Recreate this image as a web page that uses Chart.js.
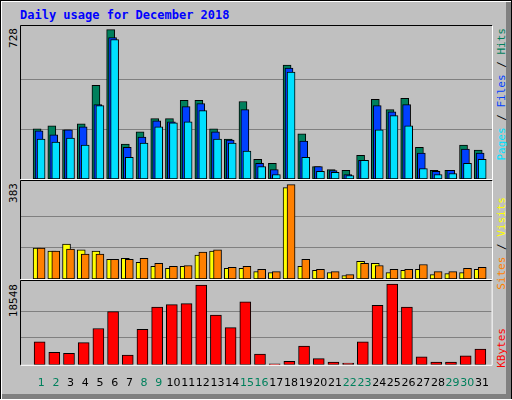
<!DOCTYPE html>
<html>
<head>
<meta charset="utf-8">
<script src="https://cdn.jsdelivr.net/npm/chart.js@4/dist/chart.umd.min.js"></script>
<style>
  body { margin: 0; background: #fff; }
  #frame { position: relative; width: 510px; height: 398px; background: #c0c0c0;
    border-top: 1px solid #000; border-left: 1px solid #000;
    box-shadow: inset 1px 1px 0 #fff, inset -5px -5px 0 #808080; outline: 1px solid #000; }
  #title { position: absolute; left: 19px; top: 7px; font: bold 12px "DejaVu Sans Mono", monospace; color: #0000ff; }
  canvas { position: absolute; }
  .vl { position: absolute; writing-mode: vertical-rl; transform: rotate(180deg); font: 11px "DejaVu Sans Mono", monospace; white-space: nowrap; }
</style>
</head>
<body>
<div id="frame">
  <div id="title">Daily usage for December 2018</div>
  <canvas id="cTop"></canvas>
  <canvas id="cMid"></canvas>
  <canvas id="cBot"></canvas>
  <div class="vl" style="left:6px;top:27px;color:#000">728</div>
  <div class="vl" style="left:6px;top:182px;color:#000">383</div>
  <div class="vl" style="left:6px;top:283px;color:#000">18548</div>
  <div class="vl" style="left:494px;top:27px"><span style="color:#00e0ff">Pages</span> / <span style="color:#0040ff">Files</span> / <span style="color:#00805c">Hits</span></div>
  <div class="vl" style="left:494px;top:196px"><span style="color:#ff8000">Sites</span> / <span style="color:#ffff00">Visits</span></div>
  <div class="vl" style="left:494px;top:327px;color:#ff0000">KBytes</div>
</div>
<script>
const days = Array.from({ length: 31 }, (_, i) => i + 1);
const weekend = [1, 2, 8, 9, 15, 16, 22, 23, 29, 30];

const hits  = [245, 259, 240, 269, 457, 728, 170, 230, 294, 294, 383, 383, 245, 195, 378, 96, 76, 556, 220, 61, 46, 42, 116, 388, 338, 393, 155, 42, 42, 165, 141];
const files = [235, 215, 240, 254, 363, 690, 155, 205, 284, 279, 353, 368, 230, 190, 338, 76, 46, 541, 185, 61, 41, 22, 91, 358, 328, 363, 126, 37, 42, 146, 126];
const pages = [195, 180, 200, 165, 358, 680, 106, 175, 254, 274, 279, 333, 195, 175, 136, 61, 22, 521, 106, 37, 32, 17, 91, 240, 309, 259, 51, 22, 27, 76, 96];

const visits = [126, 113, 142, 118, 113, 80, 84, 68, 51, 43, 51, 97, 113, 43, 43, 30, 26, 371, 51, 35, 26, 14, 72, 64, 26, 35, 39, 18, 22, 26, 39];
const sites  = [126, 113, 122, 101, 101, 80, 80, 84, 64, 51, 55, 109, 118, 47, 51, 39, 30, 383, 80, 39, 30, 18, 64, 55, 39, 39, 59, 30, 30, 43, 47];

const kbytes = [5300, 2850, 2650, 5090, 8350, 12220, 2240, 8150, 13240, 13850, 14060, 18340, 11410, 8560, 14460, 2440, 200, 810, 4280, 1430, 610, 410, 5300, 13650, 18548, 13290, 1810, 610, 610, 2040, 3630];

const pts = (arr, off) => arr.map((v, i) => ({ x: days[i] + off, y: v }));

const framePlugin = {
    id: 'frame',
    afterDraw(chart) {
        const { ctx, chartArea: a } = chart;
        ctx.save();
        ctx.lineWidth = 1;
        ctx.strokeStyle = '#000';
        ctx.beginPath();
        ctx.moveTo(a.left - 0.5, a.bottom); ctx.lineTo(a.left - 0.5, a.top - 0.5); ctx.lineTo(a.right, a.top - 0.5);
        ctx.stroke();
        ctx.strokeStyle = '#fff';
        ctx.beginPath();
        ctx.moveTo(a.right + 0.5, a.top); ctx.lineTo(a.right + 0.5, a.bottom + 0.5); ctx.lineTo(a.left, a.bottom + 0.5);
        ctx.stroke();
        ctx.restore();
    }
};

function makeChart(id, box, datasets, ymax, labelMax, showX) {
    const cv = document.getElementById(id);
    cv.style.left = box.x + 'px';
    cv.style.top = box.y + 'px';
    cv.width = box.w;
    cv.height = box.h;
    return new Chart(cv, {
        type: 'bar',
        data: { datasets },
        options: {
            responsive: false,
            animation: false,
            layout: { padding: { left: 1, top: 1, right: 1, bottom: showX ? 0 : 1 } },
            plugins: { legend: { display: false }, tooltip: { enabled: false } },
            scales: {
                x: {
                    type: 'linear', min: 0.14, max: 31.14, display: showX,
                    grid: { display: false }, border: { display: false },
                    afterBuildTicks: s => { s.ticks = days.map(d => ({ value: d })); },
                    ticks: {
                        padding: 4, autoSkip: false, maxRotation: 0, minRotation: 0,
                        font: { family: 'DejaVu Sans', size: 11 },
                        color: c => weekend.includes(c.tick.value) ? '#00805c' : '#000'
                    }
                },
                y: {
                    min: 0, max: ymax,
                    afterBuildTicks: s => { s.ticks = [{ value: labelMax / 3 }, { value: labelMax * 2 / 3 }]; },
                    ticks: { display: false },
                    grid: { color: '#808080', drawTicks: false, lineWidth: 1 },
                    border: { display: false }
                }
            }
        },
        plugins: [framePlugin]
    });
}

const barStyle = (color, thick, order) => ({
    backgroundColor: color, borderColor: '#000', borderWidth: 1, borderSkipped: false,
    barThickness: thick, order, grouped: false
});

makeChart('cTop', { x: 19, y: 24, w: 473, h: 155 }, [
    { data: pts(hits, -0.28), ...barStyle('#00805c', 8, 2) },
    { data: pts(files, -0.15), ...barStyle('#0040ff', 8, 1) },
    { data: pts(pages, -0.01), ...barStyle('#00e0ff', 8, 0) }
], 746, 728, false);

makeChart('cMid', { x: 19, y: 179, w: 473, h: 100 }, [
    { data: pts(visits, -0.28), ...barStyle('#ffff00', 8, 1) },
    { data: pts(sites, -0.01), ...barStyle('#ff8000', 8, 0) }
], 398, 383, false);

makeChart('cBot', { x: 19, y: 279, w: 473, h: 114 }, [
    { data: pts(kbytes, -0.11), ...barStyle('#ff0000', 11, 0) }
], 19262, 18548, true);
</script>
</body>
</html>
